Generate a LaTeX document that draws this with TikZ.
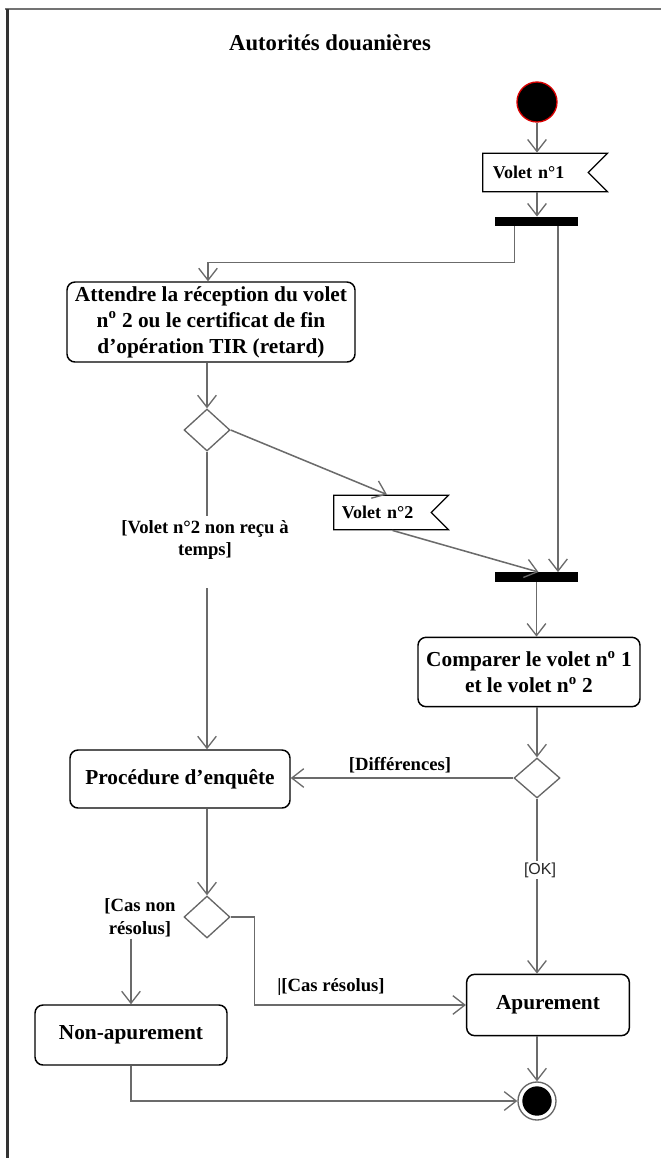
\documentclass[tikz,border=0pt]{standalone}
\usepackage{fontspec}
\setmainfont{Liberation Serif}
\setsansfont{Liberation Sans}
\usetikzlibrary{arrows.meta,shapes.geometric,shapes.symbols,calc}
\begin{document}
\begin{tikzpicture}[x=0.75pt,y=-0.75pt,
  conn/.style={draw=black!58, line width=1.15pt},
  arr/.style={conn, -{Straight Barb[length=9pt,width=14pt,line width=1pt]}},
  act/.style={draw, line width=1.1pt, rounded corners=6pt, align=center, font=\bfseries\fontsize{16}{19.5}\selectfont, inner sep=0pt},
  sig/.style={draw, line width=0.9pt, shape=signal, signal from=east, signal to=nowhere, font=\bfseries\fontsize{13.5}{16}\selectfont, inner ysep=0pt, align=left},
  dec/.style={draw=black!60, line width=1pt, shape=diamond, inner sep=0pt, minimum width=34.5pt, minimum height=31.5pt},
  bar/.style={fill=black, inner sep=0pt, minimum width=62pt, minimum height=7pt},
  guard/.style={font=\bfseries\fontsize{14}{17}\selectfont, align=center, inner sep=1pt}
]
\useasboundingbox (0,0) rectangle (661,1158);
\draw[line width=2pt, black!55] (5,9) -- (661,9);
\draw[line width=2pt, black!80] (7.5,9) -- (7.5,1158);
\node[font=\bfseries\fontsize{17}{20}\selectfont] (title) at (330,43) {Autorités douanières};

\node[circle, fill=black, draw=red!85!black, line width=1pt, minimum size=30pt, inner sep=0pt] (init) at (537,102) {};
\node[sig, inner xsep=7.5pt, text width=64pt, minimum height=29pt] (volet1) at (535.5,172.5) {Volet n°1};
\node[bar] (fork) at (536.5,221.5) {};
\node[act, minimum width=216pt, minimum height=60pt] (box1) at (211,322) {Attendre la réception du volet\\n\textsuperscript{o} 2 ou le certificat de fin\\d’opération TIR (retard)};
\node[dec] (dec1) at (207,430) {};
\node[sig, inner xsep=6pt, text width=61pt, minimum height=26pt] (volet2) at (382.5,512.5) {Volet n°2};
\node[bar] (join) at (536.5,577) {};
\node[act, minimum width=166.5pt, minimum height=52pt] (box2) at (529,672) {Comparer le volet n\textsuperscript{o} 1\\et le volet n\textsuperscript{o} 2};
\node[dec, minimum height=30pt] (dec2) at (537,778) {};
\node[act, minimum width=165pt, minimum height=43.5pt] (box3) at (180,779) {Procédure d’enquête};
\node[dec] (dec3) at (207,917) {};
\node[act, minimum width=122pt, minimum height=46pt] (apur) at (548,1005) {Apurement};
\node[act, minimum width=144pt, minimum height=45pt] (nonap) at (131,1035) {Non-apurement};
\node[circle, draw=black!60, fill=white, line width=1pt, minimum size=28.5pt, inner sep=0pt,
  path picture={\fill[black] (path picture bounding box.center) circle (11pt);}] (final) at (537,1101) {};

% guards
\node[guard, anchor=north, inner ysep=3pt] (g1) at (205,516) {[Volet n°2 non reçu à\\temps]\\[4pt]\mbox{}};
\node[guard] (g2) at (400,765) {[Différences]};
\node[font=\sffamily\fontsize{12}{14}\selectfont, fill=white, inner sep=1pt, text=black!85] (g3) at (540,870) {[OK]};
\node[guard] (g4) at (331,987) {|[Cas résolus]};
\node[guard] (g5) at (140,918) {[Cas non\\résolus]};

% connectors
\draw[arr] (init.south) -- (init.south |- volet1.north);
\draw[arr] (init.south |- volet1.south) -- (init.south |- fork.north);
\draw[arr] ($(fork.south)+(-22,0)$) -- ++(0,36) -| ($(box1.north)+(-3,0)$);
\draw[arr] ($(fork.south)+(21.5,0)$) -- ($(join.north)+(21.5,0)$);
\draw[arr] (box1.south -| dec1) -- (dec1.north);
\draw[arr] (dec1.east) -- ($(volet2.north)+(4.5,0)$);
\draw[arr] ($(volet2.south)+(10,0)$) -- ($(join.north)+(2,0)$);
\draw[conn] (dec1.south) -- (dec1.south |- g1.north);
\draw[arr] (dec1.south |- g1.south) -- (dec1.south |- box3.north);
\draw[arr] (join.south) -- (join.south |- box2.north);
\draw[arr] (box2.south -| dec2) -- (dec2.north);
\draw[arr] (dec2.west) -- (dec2.west -| box3.east);
\draw[conn] (dec2.south) -- (dec2.south |- g3.north);
\draw[arr] (dec2.south |- g3.south) -- (dec2.south |- apur.north);
\draw[arr] (box3.south -| dec3) -- (dec3.north);
\draw[arr] (dec3.east) -- ++(24,0) |- (apur.west);
\draw[arr] (g5.south -| nonap) -- (nonap.north);
\draw[arr] (nonap.south) |- (final.west);
\draw[arr] (apur.south -| final) -- (final.north);
\end{tikzpicture}
\end{document}
